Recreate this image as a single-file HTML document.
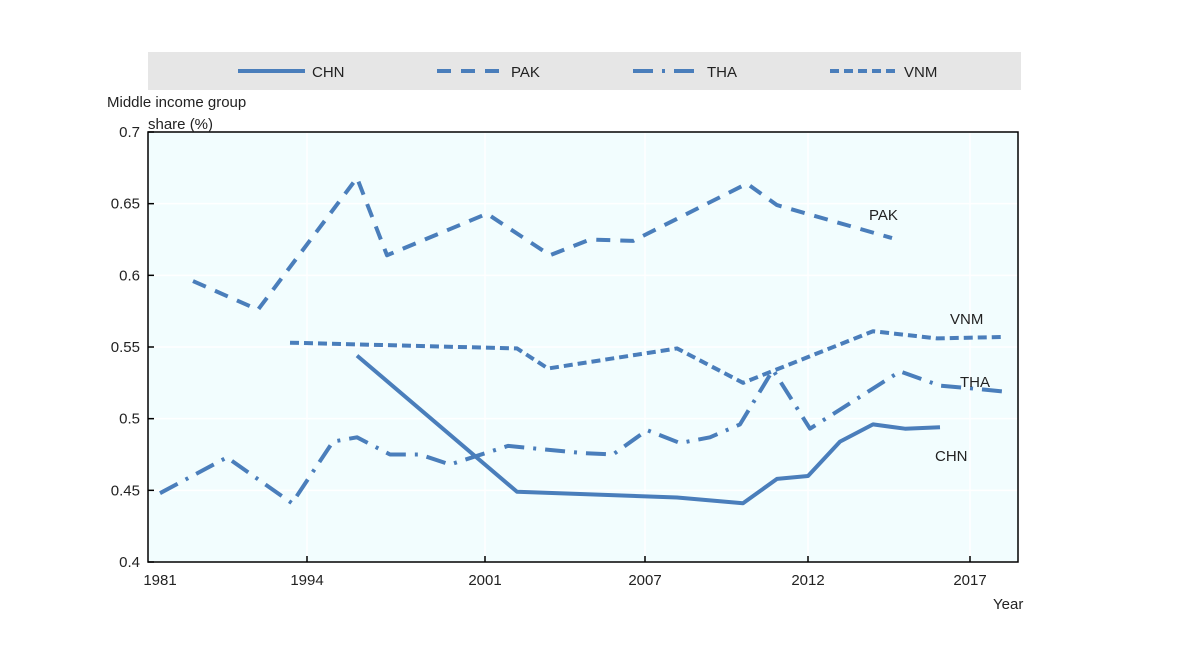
<!DOCTYPE html>
<html><head><meta charset="utf-8"><style>
body{margin:0;background:#fff;width:1177px;height:657px;overflow:hidden;font-family:"Liberation Sans",sans-serif}
svg text{font-family:"Liberation Sans",sans-serif;font-size:15px;fill:#222}
</style></head><body>
<svg id="chart" width="1177" height="657" xmlns="http://www.w3.org/2000/svg"></svg>
<script>
const xTickPos=[1.2,15.9,33.7,49.7,66,82.2];
const xTickLabels=["1981","1994","2001","2007","2012","2017"];
const yTicks=[0.4,0.45,0.5,0.55,0.6,0.65,0.7];
const seriesNames=["CHN","PAK","THA","VNM"];
const chnX=[20.9,36.9,52.9,59.5,62.9,66,69.2,72.5,75.7,79.2];
const chnY=[0.544,0.449,0.445,0.441,0.458,0.460,0.484,0.496,0.493,0.494];
const pakX=[4.5,11,20.9,23.9,33.9,40.2,44.2,48.5,59.9,62.9,74.4];
const pakY=[0.596,0.576,0.668,0.614,0.643,0.614,0.625,0.624,0.664,0.649,0.626];
const thaX=[1.2,7.9,14.4,18.5,20.9,24.2,27.2,30.2,36,43.5,46.5,49.9,53.2,56.2,59.2,62.5,66.2,75.2,79.2,82.5,85.5];
const thaY=[0.448,0.473,0.441,0.484,0.487,0.475,0.475,0.468,0.481,0.476,0.475,0.492,0.483,0.487,0.496,0.534,0.493,0.533,0.523,0.521,0.519];
const vnmX=[14.2,36.9,40,52.9,59.5,72.5,78.9,85.5];
const vnmY=[0.553,0.549,0.535,0.549,0.525,0.561,0.556,0.557];

const svg=document.getElementById('chart');
const NS="http://www.w3.org/2000/svg";
const L=148,R=1018,T=132,B=562;
const xs=v=>L+v*10;
const ys=v=>B-(v-0.4)/0.3*(B-T);
function mk(tag,attrs,parent){const e=document.createElementNS(NS,tag);for(const k in attrs)e.setAttribute(k,attrs[k]);(parent||svg).appendChild(e);return e;}
const col="#4a7ebb";
const dashes={CHN:"none",PAK:"14 10",THA:"20 9 3 9",VNM:"9 5"};

// legend
let lg=mk('rect',{x:148,y:52,width:873,height:38,fill:"#e6e6e6"});


const legX=[238,437,633,830];
seriesNames.forEach((n,i)=>{
  const g=mk('g',{});
  
  
  mk('line',{x1:legX[i],x2:legX[i]+67,y1:71,y2:71,stroke:col,"stroke-width":4,"stroke-dasharray":dashes[n]},g);
  const t=mk('text',{x:legX[i]+74,y:77},g);t.textContent=n;
});

// plot background
let bg=mk('rect',{x:L,y:T,width:R-L,height:B-T,fill:"#f2fdfe"});


yTicks.forEach(v=>{
  const gl=mk('line',{x1:L,x2:R,y1:ys(v),y2:ys(v),stroke:"#fff","stroke-width":1.5});
  
  
  const tk=mk('line',{x1:L,x2:L+6,y1:ys(v),y2:ys(v),stroke:"#000","stroke-width":1.5});
  
  
  const t=mk('text',{x:L-8,y:ys(v)+5,"text-anchor":"end"});
  
  
  t.textContent=String(v);
});
xTickPos.forEach((p,i)=>{
  if(i>0){const gl=mk('line',{x1:xs(p),x2:xs(p),y1:T,y2:B,stroke:"#fff","stroke-width":1.5});
  
  
  const tk=mk('line',{x1:xs(p),x2:xs(p),y1:B,y2:B-6,stroke:"#000","stroke-width":1.5});
  
  }
  const t=mk('text',{x:xs(p),y:B+23,"text-anchor":"middle"});
  
  
  t.textContent=xTickLabels[i];
});
let fr=mk('rect',{x:L,y:T,width:R-L,height:B-T,fill:"none",stroke:"#000","stroke-width":1.5});



const data={CHN:[chnX,chnY],PAK:[pakX,pakY],THA:[thaX,thaY],VNM:[vnmX,vnmY]};
seriesNames.forEach(n=>{
  const [X,Y]=data[n];
  const p=mk('polyline',{points:X.map((x,i)=>xs(x)+","+ys(Y[i])).join(" "),fill:"none",stroke:col,"stroke-width":4,"stroke-dasharray":dashes[n],"stroke-linejoin":"round"});
  
  
});
const lab=[["PAK",869,220],["VNM",950,324],["THA",960,387],["CHN",935,461]];
lab.forEach(a=>{const t=mk('text',{x:a[1],y:a[2]});
  
  
  t.textContent=a[0];});
let t1=mk('text',{x:107,y:107});t1.textContent="Middle income group";


let t2=mk('text',{x:148,y:129});t2.textContent="share (%)";


let t3=mk('text',{x:993,y:609});t3.textContent="Year";


</script>
</body></html>
